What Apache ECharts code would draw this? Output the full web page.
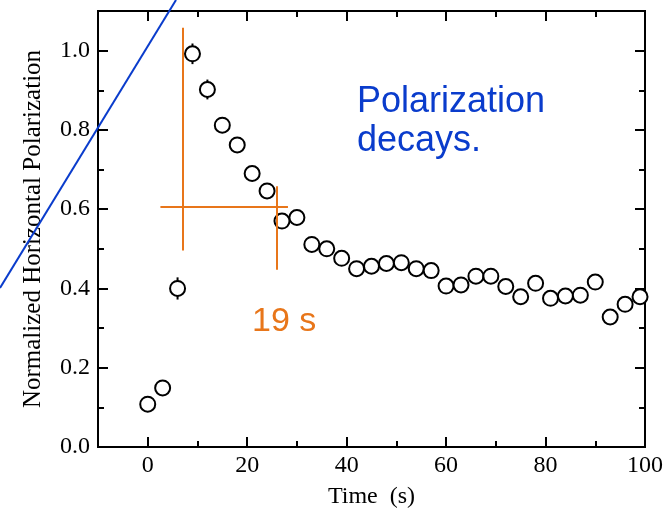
<!DOCTYPE html>
<html>
<head>
<meta charset="utf-8">
<script src="https://cdn.jsdelivr.net/npm/echarts@6/dist/echarts.min.js"></script>
<style>
html, body { margin: 0; padding: 0; background: #fff; }
#chart { width: 672px; height: 514px; }
</style>
</head>
<body>
<div id="chart"></div>
<script>
// measured points, every 3 s
var times = [0, 3, 6, 9, 12, 15, 18, 21, 24, 27, 30, 33, 36, 39, 42, 45, 48,
  51, 54, 57, 60, 63, 66, 69, 72, 75, 78, 81, 84, 87, 90, 93, 96, 99];
var polarization = [0.108, 0.149, 0.400, 0.992, 0.902, 0.812, 0.762, 0.690, 0.646, 0.570,
  0.579, 0.511, 0.500, 0.476, 0.450, 0.456, 0.463, 0.465, 0.450, 0.445,
  0.406, 0.409, 0.431, 0.431, 0.405, 0.379, 0.413, 0.375, 0.381, 0.383,
  0.416, 0.328, 0.360, 0.379];
var errors = [0.015, 0.015, 0.028, 0.026, 0.025, 0.015, 0.015, 0.015, 0.015, 0.015,
  0.015, 0.015, 0.015, 0.015, 0.015, 0.015, 0.015, 0.015, 0.015, 0.015,
  0.015, 0.015, 0.015, 0.015, 0.015, 0.015, 0.015, 0.015, 0.015, 0.015,
  0.015, 0.015, 0.015, 0.015];

var xMajorTicks = [0, 20, 40, 60, 80, 100];
var xMinorTicks = [-10, 10, 30, 50, 70, 90];
var yMajorTicks = [0, 0.2, 0.4, 0.6, 0.8, 1.0];
var yMinorTicks = [0.1, 0.3, 0.5, 0.7, 0.9];

// orange "19 s" marker lines, in data units
var decayLines = [
  [[7, 1.058], [7, 0.496]],
  [[2.55, 0.605], [28.2, 0.605]],
  [[26, 0.658], [26, 0.447]]
];

var orange = '#e8761a';
var blue = '#0a3ccc';
var serif = '"Liberation Serif", "DejaVu Serif", serif';
var sans = '"Liberation Sans", Arial, sans-serif';

var chart = echarts.init(document.getElementById('chart'));

function xAxisDef(pos, ticks, len, withLabels) {
  return {
    type: 'value', position: pos, min: -10, max: 100, interval: 10,
    axisLine: { show: false, onZero: false },
    splitLine: { show: false },
    axisTick: { show: true, inside: true, length: len, customValues: ticks,
      lineStyle: { color: '#000', width: 2 } },
    axisLabel: withLabels ? { show: true, customValues: xMajorTicks, margin: 7,
      color: '#000', fontFamily: serif, fontSize: 24 } : { show: false },
    name: withLabels ? 'Time  (s)' : '',
    nameLocation: 'middle', nameGap: 38,
    nameTextStyle: { color: '#000', fontFamily: serif, fontSize: 24 }
  };
}
function yAxisDef(pos, ticks, len, withLabels) {
  return {
    type: 'value', position: pos, min: 0, max: 1.1, interval: 0.1,
    axisLine: { show: false, onZero: false },
    splitLine: { show: false },
    axisTick: { show: true, inside: true, length: len, customValues: ticks,
      lineStyle: { color: '#000', width: 2 } },
    axisLabel: withLabels ? { show: true, customValues: yMajorTicks, margin: 8,
      color: '#000', fontFamily: serif, fontSize: 24,
      formatter: function (v) { return v.toFixed(1); } } : { show: false },
    name: withLabels ? 'Normalized Horizontal Polarization' : '',
    nameLocation: 'middle', nameGap: 52, nameRotate: 90,
    nameTextStyle: { color: '#000', fontFamily: serif, fontSize: 25 }
  };
}

var option = {
  animation: false,
  backgroundColor: '#fff',
  grid: { left: 98, right: 27, top: 11, bottom: 66, show: true,
    borderColor: '#000', borderWidth: 2, backgroundColor: 'transparent' },
  xAxis: [
    xAxisDef('bottom', xMajorTicks, 10, true),
    xAxisDef('bottom', xMinorTicks, 6, false),
    xAxisDef('top', xMajorTicks, 10, false),
    xAxisDef('top', xMinorTicks, 6, false)
  ],
  yAxis: [
    yAxisDef('left', yMajorTicks, 10, true),
    yAxisDef('left', yMinorTicks, 6, false),
    yAxisDef('right', yMajorTicks, 10, false),
    yAxisDef('right', yMinorTicks, 6, false)
  ],
  series: [
    {
      type: 'custom',
      z: 2,
      renderItem: function (params, api) {
        var a = api.coord([api.value(0), api.value(1)]);
        var b = api.coord([api.value(0), api.value(2)]);
        return { type: 'line', shape: { x1: a[0], y1: a[1], x2: b[0], y2: b[1] },
          style: { stroke: '#000', lineWidth: 2 } };
      },
      encode: { x: 0, y: [1, 2] },
      data: times.map(function (t, i) {
        return [t, polarization[i] - errors[i], polarization[i] + errors[i]];
      })
    },
    {
      type: 'scatter',
      z: 3,
      symbol: 'circle',
      symbolSize: 15,
      itemStyle: { color: '#fff', borderColor: '#000', borderWidth: 2, opacity: 1 },
      data: times.map(function (t, i) { return [t, polarization[i]]; }),
      markLine: {
        silent: true,
        symbol: 'none',
        label: { show: false },
        lineStyle: { color: orange, width: 2, type: 'solid' },
        data: decayLines.map(function (l) {
          return [{ coord: l[0] }, { coord: l[1] }];
        })
      }
    }
  ],
  graphic: [
    { type: 'line', z: 10, shape: { x1: 0, y1: 288, x2: 176, y2: 0 },
      style: { stroke: blue, lineWidth: 2 } },
    { type: 'text', left: 357, top: 83, z: 10,
      style: { text: 'Polarization\ndecays.', fill: blue, font: '36px ' + sans,
        lineHeight: 39 } },
    { type: 'text', left: 252, top: 305, z: 10,
      style: { text: '19 s', fill: orange, font: '34px ' + sans } }
  ]
};

chart.setOption(option);
</script>
</body>
</html>
